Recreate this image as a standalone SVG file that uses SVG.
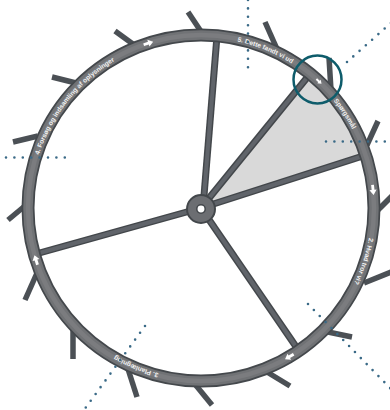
<svg xmlns="http://www.w3.org/2000/svg" xmlns:xlink="http://www.w3.org/1999/xlink" width="390" height="410" viewBox="0 0 390 410">
  <style>
    .tooth{stroke:#4b5055;stroke-width:5.5;stroke-linecap:butt;fill:none}
    .spokeO{stroke:#43474b;stroke-width:7;stroke-linecap:butt;fill:none}
    .spokeI{stroke:#60646a;stroke-width:4;stroke-linecap:butt;fill:none}
    .ringO{stroke:#44484c;stroke-width:13;fill:none}
    .ringI{stroke:#707275;stroke-width:9.5;fill:none}
    .ringC{stroke:#7b7c7f;stroke-width:4.5;fill:none}
    .lbl{font-family:"Liberation Sans",Arial,sans-serif;font-size:6.6px;font-weight:bold;fill:#f2f2f2}
    .dot{stroke:#3a6a87;stroke-width:2.6;stroke-linecap:round;stroke-dasharray:0 8.4;fill:none}
    .arr{fill:#ffffff}
  </style>
  <defs>
    <path id="ringText" d="M201,37.5 A170.5,170.5 0 0 1 201,378.5 A170.5,170.5 0 0 1 201,37.5"/>
    <polygon id="arrow" points="-5,-1.4 0,-1.4 0,-3.6 5,0 0,3.6 0,1.4 -5,1.4"/>
  </defs>
  <rect width="390" height="410" fill="#ffffff"/>

  <g id="wedge">
    <path d="M201,208 L310.1,73.8 A173,173 0 0 1 365.7,155.1 Z" fill="#d9d9d9"/>
  </g>

  <g id="teeth">
    <line class="tooth" x1="202" y1="33" x2="188" y2="12"/>
    <line class="tooth" x1="137" y1="47" x2="115" y2="31"/>
    <line class="tooth" x1="277" y1="49" x2="265" y2="22"/>
    <line class="tooth" x1="331" y1="90" x2="329" y2="58"/>
    <line class="tooth" x1="367" y1="145" x2="378" y2="121"/>
    <line class="tooth" x1="374" y1="214" x2="392" y2="196"/>
    <line class="tooth" x1="364" y1="283" x2="391" y2="272"/>
    <line class="tooth" x1="328" y1="332" x2="352" y2="337"/>
    <line class="tooth" x1="267" y1="372" x2="290" y2="386"/>
    <line class="tooth" x1="194" y1="383" x2="212" y2="405"/>
    <line class="tooth" x1="128" y1="369" x2="137" y2="397"/>
    <line class="tooth" x1="73" y1="328" x2="73" y2="359"/>
    <line class="tooth" x1="37" y1="273" x2="25" y2="300"/>
    <line class="tooth" x1="26" y1="205" x2="8" y2="220"/>
    <line class="tooth" x1="38" y1="136" x2="13" y2="142"/>
    <line class="tooth" x1="76" y1="83" x2="52" y2="77"/>
  </g>

  <g id="spokes">
    <line class="spokeO" x1="203" y1="208" x2="217" y2="36"/>
    <line class="spokeO" x1="201" y1="208" x2="310" y2="74"/>
    <line class="spokeO" x1="201" y1="208" x2="366" y2="155"/>
    <line class="spokeO" x1="201" y1="208" x2="299" y2="351"/>
    <line class="spokeO" x1="201" y1="208" x2="34" y2="254.5"/>
    <line class="spokeI" x1="203" y1="208" x2="217" y2="36"/>
    <line class="spokeI" x1="201" y1="208" x2="310" y2="74"/>
    <line class="spokeI" x1="201" y1="208" x2="366" y2="155"/>
    <line class="spokeI" x1="201" y1="208" x2="299" y2="351"/>
    <line class="spokeI" x1="201" y1="208" x2="34" y2="254.5"/>
  </g>

  <g id="ring">
    <circle class="ringO" cx="201" cy="208" r="173"/>
    <circle class="ringI" cx="201" cy="208" r="173"/>
    <circle class="ringC" cx="201" cy="208" r="173"/>
  </g>

  <g id="hub">
    <circle cx="201" cy="209" r="14" fill="#6c6e72" stroke="#43474b" stroke-width="2"/>
    <circle cx="201" cy="209" r="4.2" fill="#ffffff" stroke="#43474b" stroke-width="1.5"/>
  </g>

  <g id="labels">
    <text class="lbl"><textPath xlink:href="#ringText" startOffset="36.6">5. Dette fandt vi ud</textPath></text>
    <text class="lbl"><textPath xlink:href="#ringText" startOffset="151.8">Spørgsmål</textPath></text>
    <text class="lbl"><textPath xlink:href="#ringText" startOffset="297.6">2. Hvad tror vi?</textPath></text>
    <text class="lbl"><textPath xlink:href="#ringText" startOffset="578.2">3. Planlægning</textPath></text>
    <text class="lbl"><textPath xlink:href="#ringText" startOffset="857">4. Forsøg og indsamling af oplysninger</textPath></text>
  </g>

  <g id="arrows">
    <use href="#arrow" class="arr" transform="rotate(-17.7 201 208) translate(201 35)"/>
    <use href="#arrow" class="arr" transform="rotate(84 201 208) translate(201 35)"/>
    <use href="#arrow" class="arr" transform="rotate(149.3 201 208) translate(201 35)"/>
    <use href="#arrow" class="arr" transform="rotate(252.5 201 208) translate(201 35)"/>
    <use href="#arrow" class="arr" transform="rotate(43 201 208) translate(201 35) scale(0.7)"/>
  </g>

  <g id="focus">
    <circle cx="317.5" cy="79.5" r="24" fill="none" stroke="#0e5c6b" stroke-width="2.5"/>
  </g>

  <g id="connectors">
    <path class="dot" d="M248,0 L248,68"/>
    <path class="dot" d="M347,62 L392,22"/>
    <path class="dot" d="M6,157.5 L70,157.5"/>
    <path class="dot" d="M326,141.5 L392,141.5"/>
    <path class="dot" d="M145,326 L84,410"/>
    <path class="dot" d="M308,304 L392,390"/>
  </g>
</svg>
